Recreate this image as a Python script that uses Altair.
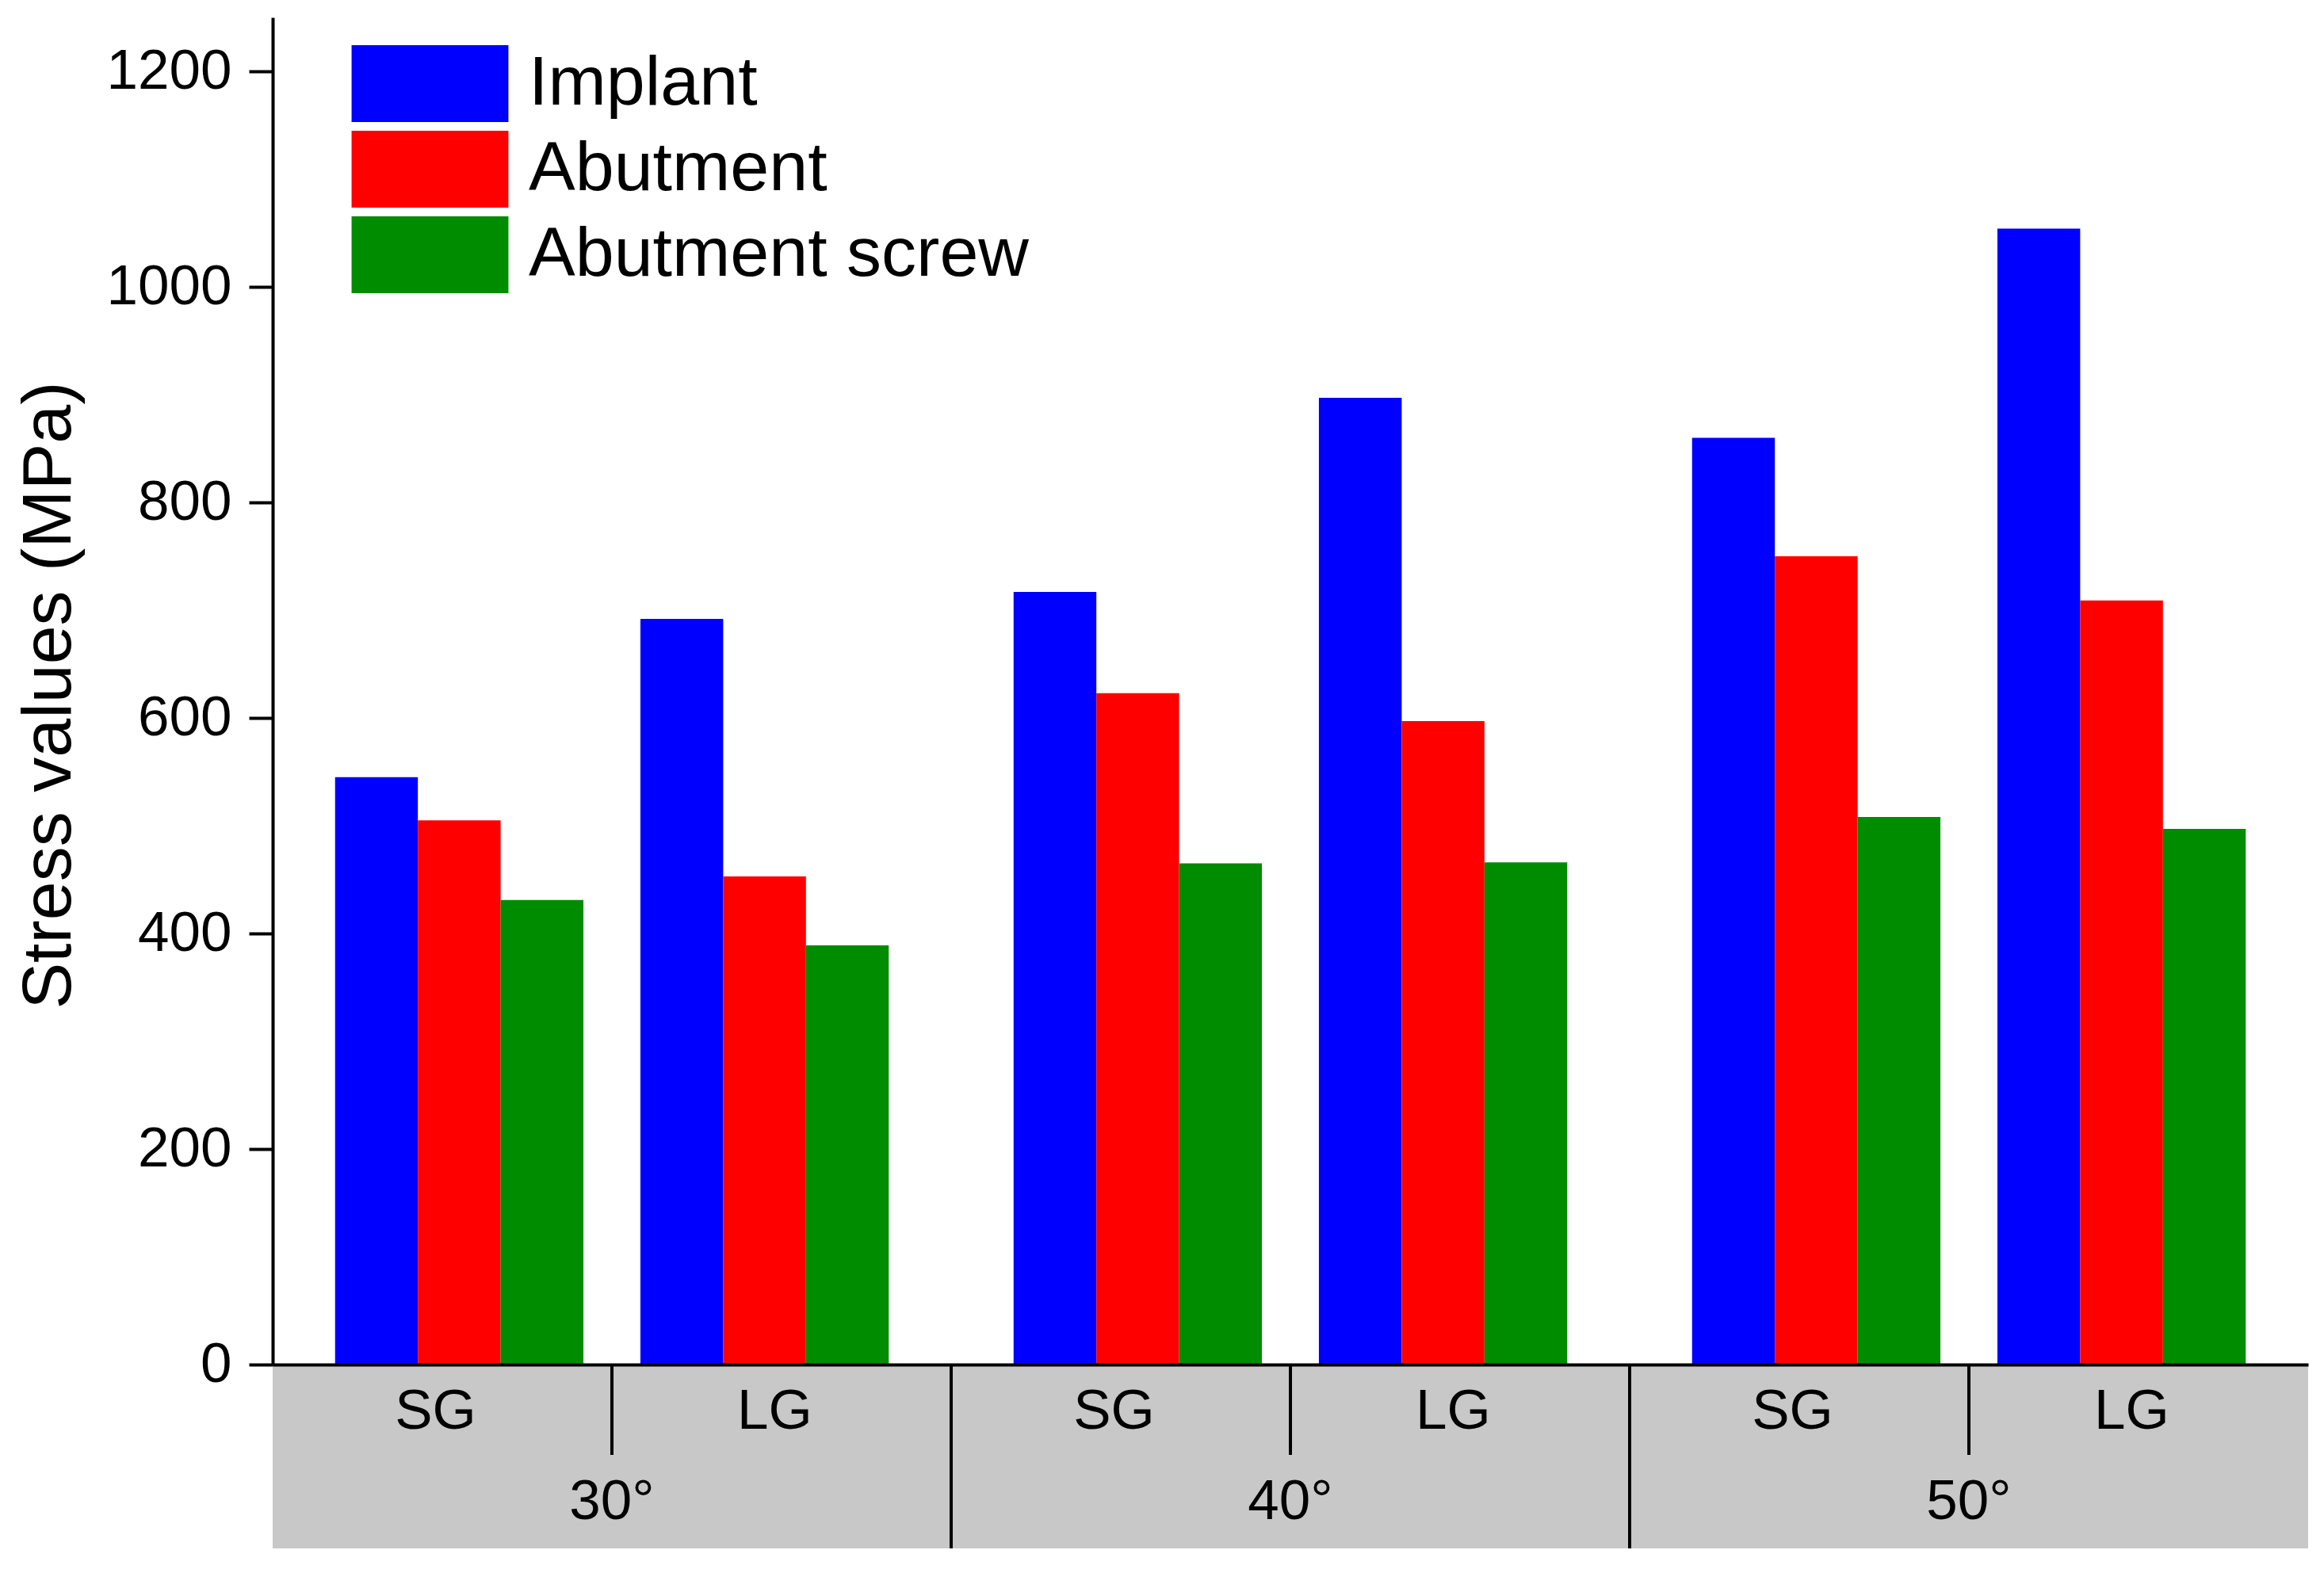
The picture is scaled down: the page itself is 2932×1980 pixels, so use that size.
import altair as alt
import pandas as pd

# ---- data ----
angles = ["30°", "40°", "50°"]
gaps = ["SG", "LG"]
series = ["Implant", "Abutment", "Abutment screw"]
colors = ["#0000FF", "#FF0000", "#008C00"]
implant = [545, 692, 717, 897, 860, 1054]
abutment = [505, 453, 623, 597, 750, 709]
screw = [431, 389, 465, 466, 508, 497]
y_ticks = [0, 200, 400, 600, 800, 1000, 1200]

# ---- layout constants ----
W, H = 2568, 1700
BAND = 232
FONT = "Liberation Sans"
BAR_W = 0.244      # bar width in slot units
CLUSTER_OFF = 0.45  # SG/LG cluster offset from group center

values = {"Implant": implant, "Abutment": abutment, "Abutment screw": screw}
rows = []
for gi, ang in enumerate(angles):
    for ki, gap in enumerate(gaps):
        idx = gi * 2 + ki
        center = 2 * gi + 1 + (ki - 0.5) * 2 * CLUSTER_OFF
        for si, s in enumerate(series):
            c = center + (si - 1) * BAR_W
            rows.append(dict(angle=ang, gap=gap, series=s, value=values[s][idx],
                             x0=c - BAR_W / 2, x1=c + BAR_W / 2))
bars_df = pd.DataFrame(rows)

group_df = pd.DataFrame({"angle": angles,
                         "g0": [2 * i for i in range(len(angles))],
                         "g1": [2 * i + 2 for i in range(len(angles))],
                         "gc": [2 * i + 1 for i in range(len(angles))]})
sub_df = pd.DataFrame([{"gap": gap, "xc": 2 * gi + ki + 0.48}
                       for gi in range(len(angles)) for ki, gap in enumerate(gaps)])
major_df = pd.DataFrame({"xs": [2 * i for i in range(1, len(angles))]})
minor_df = pd.DataFrame({"xs": [2 * i + 1 for i in range(len(angles))]})

xscale = alt.Scale(domain=[0, 2 * len(angles)], nice=False, zero=False)
xaxis = alt.Axis(domain=True, ticks=False, labels=False, grid=False, title=None,
                 domainColor="black", domainWidth=4, zindex=1)

bars = alt.Chart(bars_df).mark_rect().encode(
    x=alt.X("x0:Q", scale=xscale, axis=xaxis),
    x2="x1:Q",
    y=alt.Y("value:Q", scale=alt.Scale(domain=[0, 1250], nice=False),
            axis=alt.Axis(values=y_ticks, format="d", grid=False,
                          title="Stress values (MPa)",
                          labelFont=FONT, labelFontSize=71, labelColor="black",
                          labelPadding=22, tickSize=30, tickWidth=4, tickColor="black",
                          domainColor="black", domainWidth=4, zindex=1,
                          titleFont=FONT, titleFontSize=88, titleFontWeight="normal",
                          titleColor="black", titleAngle=-90, titleX=-282, titleY=855,
                          titleAlign="center", titleBaseline="middle")),
    y2=alt.datum(0),
    color=alt.Color("series:N", scale=alt.Scale(domain=series, range=colors),
                    legend=alt.Legend(orient="none", legendX=150, legendY=35, title=None,
                                      symbolType="M-2.04,-1H2.04V1H-2.04Z",
                                      symbolSize=9409, symbolStrokeWidth=0,
                                      symbolOpacity=1, labelFont=FONT,
                                      labelFontSize=88, labelColor="black",
                                      labelOffset=76, rowPadding=11, padding=0,
                                      labelLimit=1000)),
)

band = alt.Chart(group_df).mark_rect(color="#C8C8C8").encode(
    x=alt.X("g0:Q", scale=xscale, axis=xaxis),
    x2="g1:Q",
    y=alt.value(H),
    y2=alt.value(H + BAND),
)

major = alt.Chart(major_df).mark_rule(color="black", strokeWidth=4).encode(
    x=alt.X("xs:Q", scale=xscale, axis=xaxis),
    y=alt.value(H),
    y2=alt.value(H + BAND),
)

minor = alt.Chart(minor_df).mark_rule(color="black", strokeWidth=4).encode(
    x=alt.X("xs:Q", scale=xscale, axis=xaxis),
    y=alt.value(H),
    y2=alt.value(H + 114),
)

sub_text = alt.Chart(sub_df).mark_text(font=FONT, fontSize=71, color="black",
                                       baseline="middle").encode(
    x=alt.X("xc:Q", scale=xscale, axis=xaxis),
    y=alt.value(H + 60),
    text="gap:N",
)

ang_text = alt.Chart(group_df).mark_text(font=FONT, fontSize=71, color="black",
                                         baseline="middle").encode(
    x=alt.X("gc:Q", scale=xscale, axis=xaxis),
    y=alt.value(H + 174),
    text="angle:N",
)

chart = alt.layer(band, bars, major, minor, sub_text, ang_text).properties(
    width=W, height=H,
    autosize=alt.AutoSizeParams(type="none"),
    padding={"left": 336, "top": 14, "right": 12, "bottom": 250},
    background="white",
).configure_view(strokeWidth=0)

chart.save("out.html", embed_options={"renderer": "svg", "actions": False})
